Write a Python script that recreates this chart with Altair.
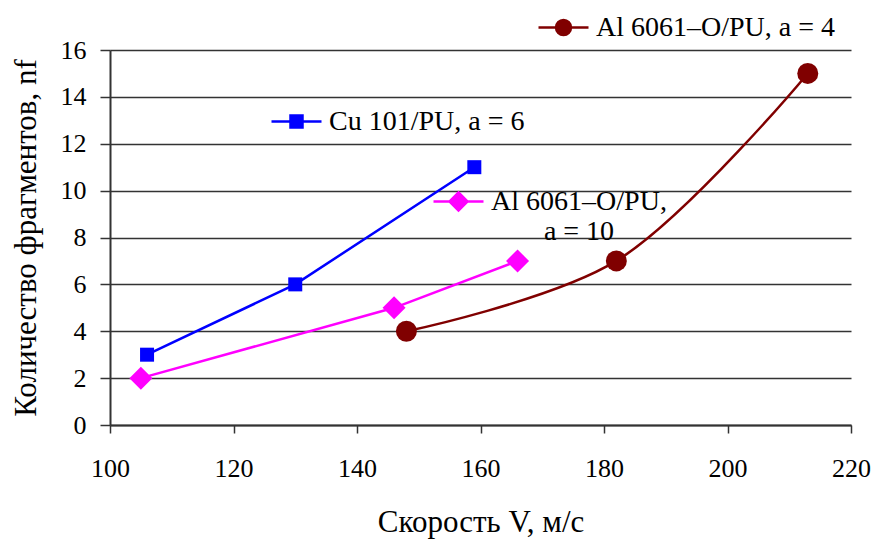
import altair as alt
import pandas as pd

# Data
cu_v = [106, 130, 159]
cu_n = [3, 6, 11]
al10_v = [105, 146, 166]
al10_n = [2, 5, 7]
al4_v = [148, 182, 213]
al4_n = [4, 7, 15]

x_ticks = [100, 120, 140, 160, 180, 200, 220]
y_ticks = [0, 2, 4, 6, 8, 10, 12, 14, 16]

lbl_cu = "Cu 101/PU, a = 6"
lbl_al10 = "Al 6061–O/PU, a = 10"
lbl_al4 = "Al 6061–O/PU, a = 4"

FONT = "Liberation Serif"

x_enc = alt.X("v:Q", scale=alt.Scale(domain=[100, 220], nice=False),
              axis=alt.Axis(values=x_ticks, grid=False, title="Скорость V, м/с",
                            tickSize=8, labelPadding=22, titlePadding=26,
                            labelFlush=False, labelFont=FONT, titleFont=FONT))
y_enc = alt.Y("n:Q", scale=alt.Scale(domain=[0, 16], nice=False),
              axis=alt.Axis(values=y_ticks, grid=True, title="Количество фрагментов, nf",
                            tickSize=10, labelPadding=14, titlePadding=18,
                            labelFlush=False, labelFont=FONT, titleFont=FONT))


def series(v, n, label, color, shape, size, sym_path, lx, ly, interp="linear",
           label_expr=None, label_align="left", label_offset=6):
    df = pd.DataFrame({"v": v, "n": n, "s": [label] * len(v)})
    leg = dict(orient="none", legendX=lx, legendY=ly, title=None,
               symbolType=sym_path, symbolSize=2500, symbolStrokeWidth=2.5,
               symbolFillColor=color, symbolStrokeColor=color, symbolOpacity=1,
               labelFont=FONT, labelFontSize=28, labelColor="black",
               labelOffset=label_offset, labelAlign=label_align,
               padding=0, labelLimit=400)
    if label_expr:
        leg["labelExpr"] = label_expr
    col = alt.Color("s:N", scale=alt.Scale(domain=[label], range=[color]),
                    legend=alt.Legend(**leg))
    base = alt.Chart(df).encode(x=x_enc, y=y_enc, color=col)
    line = base.mark_line(strokeWidth=2.5, interpolate=interp)
    pts = base.mark_point(filled=True, shape=shape, size=size, opacity=1)
    return alt.layer(line, pts)


sq_path = "M-1,0L1,0M-0.24,-0.24L0.24,-0.24L0.24,0.24L-0.24,0.24Z"
dia_path = "M-1,0L1,0M0,-0.36L0.36,0L0,0.36L-0.36,0Z"
cir_path = "M-1,0L1,0M-0.3,0A0.3,0.3 0 1,0 0.3,0A0.3,0.3 0 1,0 -0.3,0Z"

s_cu = series(cu_v, cu_n, lbl_cu, "#0000FF", "square", 196, sq_path, 160, 45)
s_al10 = series(al10_v, al10_n, lbl_al10, "#FF00FF", "diamond", 529, dia_path, 322, 125,
                label_expr="['Al 6061–O/PU,', 'a = 10']",
                label_align="center", label_offset=94)
s_al4 = series(al4_v, al4_n, lbl_al4, "#800000", "circle", 441, cir_path, 427, -49,
               interp="catmull-rom")

chart = alt.layer(s_cu, s_al10, s_al4).resolve_scale(color="independent").properties(
    width=741, height=375,
    autosize=alt.AutoSizeParams(type="none"),
    padding={"left": 110, "top": 50, "right": 21, "bottom": 115},
).configure(font=FONT).configure_view(stroke=None).configure_axis(
    labelFont=FONT, titleFont=FONT, labelFontSize=26, titleFontSize=31,
    labelColor="black", titleColor="black", titleFontWeight="normal",
    domainColor="#333333", domainWidth=2, tickColor="#333333", tickWidth=1.5,
    gridColor="#333333", gridWidth=1.5, gridOpacity=1,
).configure_legend(labelFont=FONT)

chart.save("out.html", embed_options={"renderer": "svg", "actions": False})
